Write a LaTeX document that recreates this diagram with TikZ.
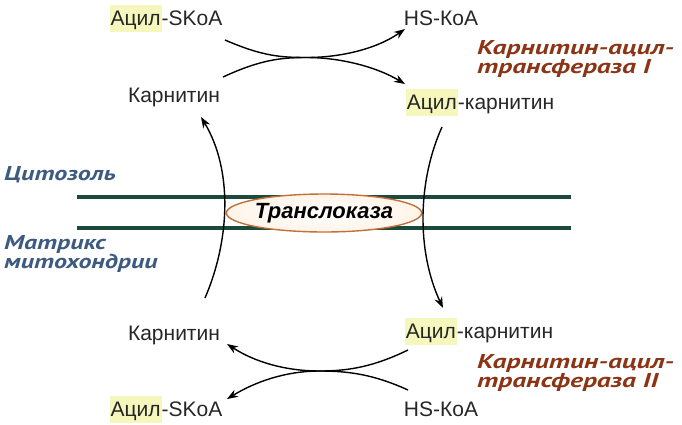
\documentclass[tikz,border=0pt]{standalone}
\usepackage{fontspec}
\setmainfont{Liberation Sans}
\newfontfamily\enzfont[FakeStretch=1.38]{PT Sans}
\newfontfamily\compfont[FakeStretch=1.3]{PT Sans}
\usetikzlibrary{arrows.meta,shapes.geometric}
\definecolor{hl}{HTML}{F5F7BC}
\definecolor{memb}{HTML}{1B4A3C}
\definecolor{enz}{HTML}{8C3416}
\definecolor{comp}{HTML}{3D5A80}
\definecolor{ellc}{HTML}{C0703A}
\newcommand\hlt[1]{{\setlength\fboxsep{0pt}\colorbox{hl}{\rule[-7pt]{0pt}{27pt}\hspace{1pt}#1\hspace{1pt}}}}
\tikzset{
  lbl/.style={font=\fontsize{21}{22}\selectfont, inner sep=0pt, text=black!85, anchor=base},
  enzlbl/.style={font=\enzfont\bfseries\itshape\fontsize{20}{17}\selectfont, text=enz, align=left, anchor=north west, inner sep=0pt},
  complbl/.style={font=\compfont\bfseries\itshape\fontsize{20}{18}\selectfont, text=comp, align=left, anchor=north west, inner sep=0pt},
  rxn/.style={line width=1.4pt, -{Stealth[length=11pt,width=8pt]}},
  membline/.style={line width=4pt, memb}
}
\begin{document}
\begin{tikzpicture}[x=1pt,y=-1pt]
\useasboundingbox (0,0) rectangle (682,424);
% membrane
\coordinate (m1l) at (77,197); \coordinate (m1r) at (571,197);
\coordinate (m2l) at (77,228); \coordinate (m2r) at (571,228);
\draw[membline] (m1l) -- (m1r);
\draw[membline] (m2l) -- (m2r);
\node[ellipse, draw=ellc, line width=1.4pt, inner color=white, outer color=orange!9,
      minimum width=192pt, minimum height=38pt, inner sep=0pt,
      font=\bfseries\itshape\fontsize{22}{22}\selectfont] (transl) at (324,213) {Транслоказа};
% compartments
\node[complbl] (cyto) at (4,166) {Цитозоль};
\node[complbl] (matrix) at (4,235) {Матрикс\\митохондрии};
% top compounds
\node[lbl] (askoa1) at (166,25) {\hlt{Ацил}-SKoA};
\node[lbl] (hskoa1) at (441,25) {HS-КоА};
\node[lbl] (carn1) at (174,102) {Карнитин};
\node[lbl] (acarn1) at (480,109) {\hlt{Ацил}-карнитин};
\node[enzlbl] (cat1) at (477,40) {Карнитин-ацил-\\трансфераза I};
% bottom compounds
\node[lbl] (carn2) at (174,340) {Карнитин};
\node[lbl] (acarn2) at (479,338) {\hlt{Ацил}-карнитин};
\node[lbl] (askoa2) at (166,416) {\hlt{Ацил}-SKoA};
\node[lbl] (hskoa2) at (441,416) {HS-КоА};
\node[enzlbl] (cat2) at (477,354) {Карнитин-ацил-\\трансфераза II};
% reaction endpoints
\coordinate (t1s) at (225,40); \coordinate (tx) at (307,57.5); \coordinate (t1e) at (405,29);
\coordinate (t2s) at (223,77); \coordinate (t2e) at (405,84);
\draw[rxn] (t1s) .. controls (262,56) and (280,57.5) .. (tx) .. controls (338,57.5) and (375,50) .. (t1e);
\draw[rxn] (t2s) .. controls (260,60) and (280,57.5) .. (tx) .. controls (338,57.5) and (375,66) .. (t2e);
\coordinate (b1s) at (408,350); \coordinate (bx) at (320,371); \coordinate (b1e) at (227,344);
\coordinate (b2s) at (408,390); \coordinate (b2e) at (227,399);
\draw[rxn] (b1s) .. controls (375,366) and (350,371) .. (bx) .. controls (285,371) and (255,362) .. (b1e);
\draw[rxn] (b2s) .. controls (375,375) and (350,371) .. (bx) .. controls (285,371) and (255,382) .. (b2e);
% transport arrows
\coordinate (ls) at (205,298); \coordinate (le) at (201,117);
\coordinate (rs) at (442,127); \coordinate (re) at (443,308);
\draw[rxn] (ls) .. controls (230,240) and (233,170) .. (le);
\draw[rxn] (rs) .. controls (418,180) and (416,250) .. (re);
\end{tikzpicture}
\end{document}
